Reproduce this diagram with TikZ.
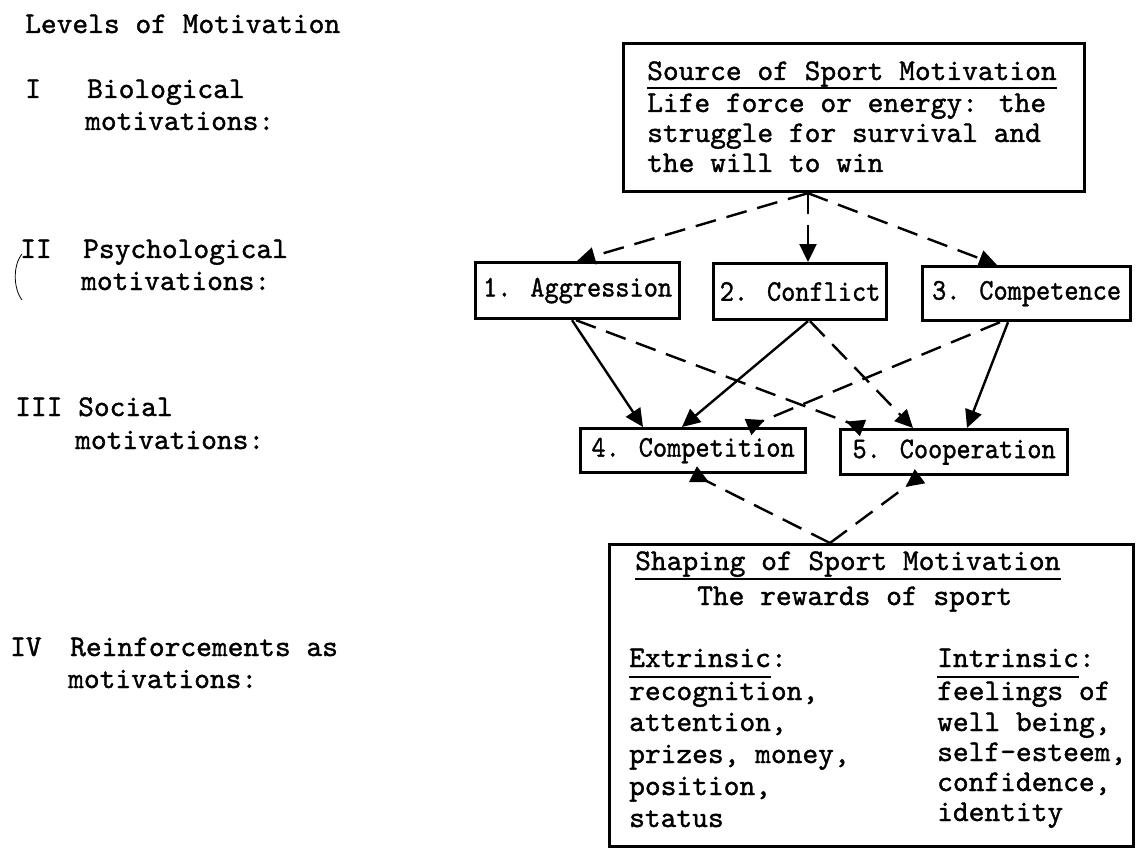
\documentclass[tikz,border=0pt]{standalone}
\usepackage{fontspec}
\newfontfamily\twfont{lmmono10-regular.otf}[FakeBold=1.2]
\usetikzlibrary{arrows.meta}
\tikzset{
  tw/.style={font=\twfont\fontsize{30}{32}\selectfont, inner sep=0pt, anchor=base west},
  bigbox/.style={draw, line width=3.2pt, inner sep=0pt, anchor=north west},
  midbox/.style={draw, line width=3.2pt, inner sep=0pt, anchor=north west, font=\twfont\fontsize{30}{32}\selectfont},
  solidarr/.style={line width=2.4pt, -{Triangle[length=18pt,width=17pt]}},
  dasharr/.style={line width=2.4pt, dash pattern=on 21pt off 11pt, -{Triangle[length=18pt,width=17pt]}},
  dasharrR/.style={line width=2.4pt, dash pattern=on 21pt off 11pt, -{Triangle[length=18pt,width=17pt,reversed]}},
  uline/.style={line width=1.8pt},
}
\begin{document}
\begin{tikzpicture}[x=1pt,y=-1pt]
\useasboundingbox[fill=white] (0,0) rectangle (1136,856);

% ---- left column: levels ----
\node[tw] (lev) at (25,33) {Levels of Motivation};
\node[tw] (n1) at (25,98) {I};
\node[tw] (t1a) at (87,98) {Biological};
\node[tw] (t1b) at (85,130) {motivations:};
\node[tw] (n2) at (20,258) {II};
\node[tw] (t2a) at (83,258) {Psychological};
\node[tw] (t2b) at (81,290) {motivations:};
\node[tw] (n3) at (15,416) {III};
\node[tw] (t3a) at (78,416) {Social};
\node[tw] (t3b) at (75,449) {motivations:};
\node[tw] (n4) at (10,656) {IV};
\node[tw] (t4a) at (70,656) {Reinforcements as};
\node[tw] (t4b) at (68,688) {motivations:};
\draw[line width=0.8pt] (22,254) .. controls (13,265) and (13,288) .. (22,300);

% ---- source box ----
\node[bigbox, minimum width=461pt, minimum height=148pt] (src) at (622,42) {};
\node[tw] (sh) at (647,80) {Source of Sport Motivation};
\draw[uline] ([yshift=-8pt]sh.base west) -- ([yshift=-8pt]sh.base east);
\node[tw] (s1) at (647,112) {Life force or energy: the};
\node[tw] (s2) at (647,142) {struggle for survival and};
\node[tw] (s3) at (647,172) {the will to win};

% ---- middle boxes ----
\node[midbox, minimum width=204pt, minimum height=56pt] (agg) at (474,261) {\scalebox{0.9}[1]{1. Aggression}};
\node[midbox, minimum width=173pt, minimum height=56pt] (con) at (712,262) {\scalebox{0.9}[1]{2. Conflict}};
\node[midbox, minimum width=208pt, minimum height=54pt] (cmp) at (921,265) {\scalebox{0.9}[1]{3. Competence}};
\node[midbox, minimum width=225pt, minimum height=44pt] (ctn) at (579,427) {\scalebox{0.9}[1]{4. Competition}};
\node[midbox, minimum width=227pt, minimum height=45pt] (coo) at (839,428) {\scalebox{0.9}[1]{5. Cooperation}};

% ---- shaping box ----
\node[bigbox, minimum width=524pt, minimum height=302pt] (shp) at (608,543) {};
\node[tw] (hh) at (635,570) {Shaping of Sport Motivation};
\draw[uline] ([yshift=-9pt]hh.base west) -- ([yshift=-9pt]hh.base east);
\node[tw] (rw) at (697,605) {The rewards of sport};
\node[tw] (ext) at (629,667) {Extrinsic:};
\draw[uline] ([yshift=-10pt]ext.base west) -- ++(142pt,0);
\node[tw] (e1) at (629,700) {recognition,};
\node[tw] (e2) at (629,731) {attention,};
\node[tw] (e3) at (629,763) {prizes, money,};
\node[tw] (e4) at (629,795) {position,};
\node[tw] (e5) at (629,827) {status};
\node[tw] (int) at (937,667) {Intrinsic:};
\draw[uline] ([yshift=-10pt]int.base west) -- ++(142pt,0);
\node[tw] (i1) at (937,700) {feelings of};
\node[tw] (i2) at (937,731) {well being,};
\node[tw] (i3) at (937,761) {self-esteem,};
\node[tw] (i4) at (937,791) {confidence,};
\node[tw] (i5) at (937,821) {identity};

% ---- connectors: source to level II ----
\coordinate (so) at ([xshift=186pt]src.south west);
\draw[dasharr] (so) -- ([xshift=103pt]agg.north west);
\draw[dasharr] (so) -- ([xshift=96pt]con.north west);
\draw[dasharr] (so) -- ([xshift=76pt]cmp.north west);

% ---- level II to level III ----
\draw[solidarr] ([xshift=98pt]agg.south west) -- ([xshift=64pt]ctn.north west);
\draw[solidarr] ([xshift=96pt]con.south west) -- ([xshift=103pt]ctn.north west);
\draw[solidarr] ([xshift=87pt]cmp.south west) -- ([xshift=128pt]coo.north west);
\draw[dasharrR] ([xshift=102pt]agg.south west) -- ([xshift=24pt]coo.north west);
\draw[dasharr] ([xshift=98pt]con.south west) -- ([xshift=74pt]coo.north west);
\draw[dasharrR] ([xshift=79pt]cmp.south west) -- ([xshift=169pt]ctn.north west);

% ---- shaping to level III ----
\coordinate (apex) at ([xshift=222pt]shp.north west);
\draw[dasharrR] (apex) -- ([xshift=114pt]ctn.south west);
\draw[dasharrR] (apex) -- ([xshift=81pt]coo.south west);
\end{tikzpicture}
\end{document}
